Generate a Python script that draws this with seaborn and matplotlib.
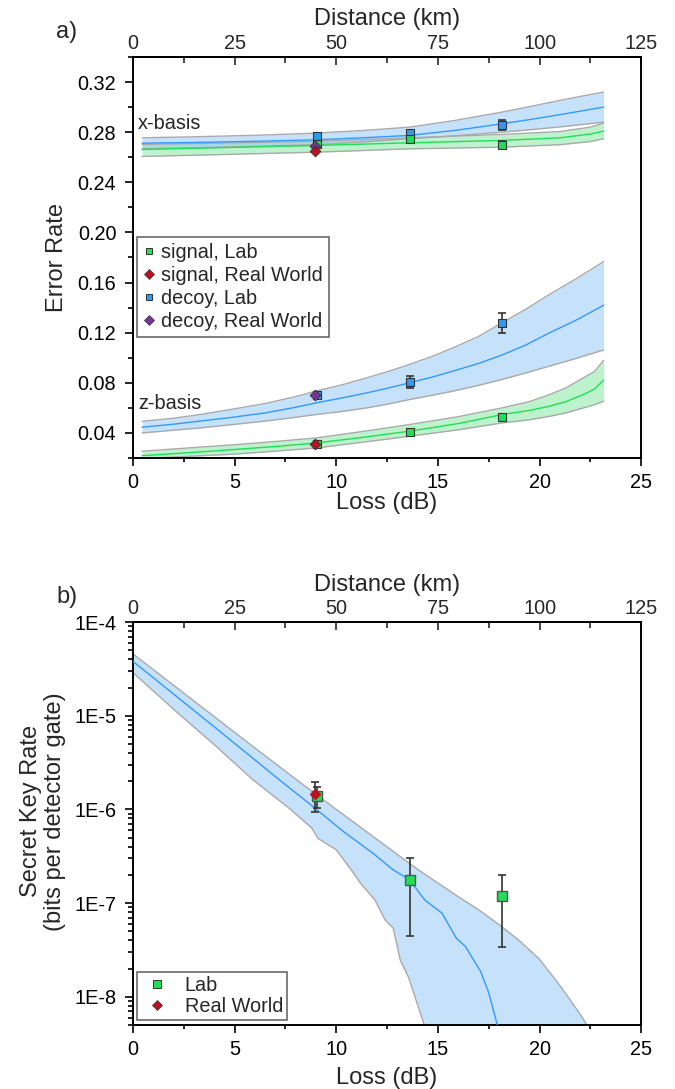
import numpy as np
import matplotlib
matplotlib.use("Agg")
import matplotlib.pyplot as plt
from matplotlib.ticker import MultipleLocator, FixedLocator, LogLocator, FuncFormatter, NullFormatter
from matplotlib.lines import Line2D
import seaborn as sns

# ---------------- Panel a: error rates vs loss ----------------
# x-basis model bands (loss in dB)
xb_decoy_loss = [0.45, 3.0, 6.0, 9.0, 11.3, 13.6, 15.9, 18.15, 19.7, 21.2, 23.15]
xb_decoy_mid = [0.2712, 0.2718, 0.2727, 0.2739, 0.2755, 0.2774, 0.2815, 0.2867, 0.2905, 0.2945, 0.3000]
xb_decoy_hi = [0.2755, 0.2763, 0.2775, 0.2792, 0.2813, 0.2840, 0.2895, 0.2960, 0.3010, 0.3060, 0.3120]
xb_decoy_lo = [0.2667, 0.2675, 0.2687, 0.2700, 0.2722, 0.2747, 0.2772, 0.2800, 0.2822, 0.2845, 0.2880]

xb_signal_loss = [0.45, 4.5, 9.0, 13.6, 18.15, 21.0, 22.5, 23.15]
xb_signal_mid = [0.2662, 0.2677, 0.2694, 0.2715, 0.2734, 0.2755, 0.2785, 0.2808]
xb_signal_hi = [0.2702, 0.2713, 0.2726, 0.2755, 0.2782, 0.2805, 0.2840, 0.2872]
xb_signal_lo = [0.2606, 0.2622, 0.2640, 0.2667, 0.2680, 0.2700, 0.2725, 0.2747]

# z-basis model bands
zb_decoy_loss = [0.45, 2.0, 3.3, 4.9, 6.5, 8.0, 9.0, 10.3, 11.5, 12.6, 13.6, 14.7, 15.75,
                 17.0, 18.15, 19.3, 20.5, 21.8, 23.15]
zb_decoy_mid = [0.0446, 0.0470, 0.0495, 0.0525, 0.0560, 0.0605, 0.0640, 0.0680, 0.0720, 0.0760,
                0.0800, 0.0845, 0.0894, 0.0955, 0.1022, 0.1100, 0.1200, 0.1300, 0.1419]
zb_decoy_hi = [0.0493, 0.0518, 0.0547, 0.0590, 0.0635, 0.0690, 0.0734, 0.0785, 0.0840, 0.0893,
               0.0947, 0.1010, 0.1080, 0.1170, 0.1280, 0.1385, 0.1507, 0.1630, 0.1768]
zb_decoy_lo = [0.0400, 0.0422, 0.0440, 0.0467, 0.0495, 0.0525, 0.0547, 0.0572, 0.0600, 0.0632,
               0.0667, 0.0700, 0.0734, 0.0780, 0.0827, 0.0878, 0.0934, 0.0995, 0.1062]

zb_signal_loss = [0.45, 2.5, 4.9, 7.0, 9.0, 11.3, 13.6, 16.0, 18.15, 19.5, 20.5, 21.3, 22.15, 22.7, 23.15]
zb_signal_mid = [0.0219, 0.0240, 0.0267, 0.0292, 0.0320, 0.0365, 0.0414, 0.0475, 0.0547, 0.0580,
                 0.0614, 0.0650, 0.0707, 0.0750, 0.0822]
zb_signal_hi = [0.0254, 0.0278, 0.0305, 0.0332, 0.0360, 0.0412, 0.0467, 0.0530, 0.0600, 0.0650,
                0.0707, 0.0760, 0.0840, 0.0890, 0.0979]
zb_signal_lo = [0.0195, 0.0212, 0.0230, 0.0255, 0.0280, 0.0326, 0.0374, 0.0425, 0.0480, 0.0505,
                0.0533, 0.0560, 0.0600, 0.0625, 0.0654]

# measured points
lab_loss = [9.05, 13.62, 18.15]
rw_loss = [8.95]
x_signal_lab = [0.2705, 0.2742, 0.2700]
x_signal_lab_err = [0.002, 0.002, 0.003]
x_decoy_lab = [0.2768, 0.2790, 0.2860]
x_decoy_lab_err = [0.002, 0.002, 0.004]
x_signal_rw = [0.2650]
x_decoy_rw = [0.2690]
z_signal_lab = [0.0310, 0.0405, 0.0530]
z_signal_lab_err = [0.001, 0.001, 0.0015]
z_decoy_lab = [0.0700, 0.0808, 0.1280]
z_decoy_lab_err = [0.003, 0.0047, 0.008]
z_signal_rw = [0.0315]
z_decoy_rw = [0.0700]

# ---------------- Panel b: secret key rate ----------------
skr_hi_loss = [0, 2, 4, 6, 8, 10, 12, 14, 16, 17, 18, 19, 20, 21, 22, 22.6]
skr_hi = [4.57e-5, 2.11e-5, 9.77e-6, 4.52e-6, 2.11e-6, 1.0e-6, 4.79e-7, 2.29e-7,
          1.17e-7, 8.5e-8, 5.9e-8, 3.98e-8, 2.51e-8, 1.32e-8, 6.5e-9, 4.0e-9]
skr_lo_loss = [0, 2, 4, 5.9, 7.7, 8.8, 9.1, 10.0, 10.75, 11.2, 11.9, 12.4, 12.8, 13.15, 13.55, 14.3, 14.5]
skr_lo = [2.88e-5, 1.17e-5, 4.9e-6, 2.07e-6, 1.02e-6, 6.3e-7, 4.9e-7, 3.7e-7, 2.24e-7,
          1.62e-7, 1.08e-7, 6.6e-8, 5.4e-8, 2.45e-8, 1.62e-8, 5.2e-9, 3.5e-9]
skr_mid_loss = [0, 2, 4, 7.2, 9.05, 10.35, 11.8, 12.8, 13.6, 14.35, 15.2, 15.9, 16.35, 17.1, 17.5, 17.9, 18.05]
skr_mid = [3.8e-5, 1.7e-5, 7.6e-6, 2.07e-6, 9.9e-7, 5.8e-7, 3.41e-7, 2.26e-7, 1.78e-7,
           1.08e-7, 7.8e-8, 4.23e-8, 3.44e-8, 1.86e-8, 1.10e-8, 5.2e-9, 4.0e-9]

skr_lab = [1.40e-6, 1.76e-7, 1.20e-7]
skr_lab_lo = [1.04e-6, 4.5e-8, 3.4e-8]
skr_lab_hi = [1.75e-6, 3.0e-7, 2.0e-7]
skr_rw = [1.45e-6]
skr_rw_lo = [9.4e-7]
skr_rw_hi = [1.95e-6]

# axis ticks
loss_ticks = [0, 5, 10, 15, 20, 25]
dist_ticks = [0, 25, 50, 75, 100, 125]
err_ticks = [0.04, 0.08, 0.12, 0.16, 0.20, 0.24, 0.28, 0.32]

# ---------------- styling ----------------
sns.set_theme(style="ticks")
plt.rcParams["font.family"] = ["Liberation Sans", "DejaVu Sans"]
plt.rcParams["axes.linewidth"] = 1.4
plt.rcParams["axes.edgecolor"] = "black"

BLUE_FILL = "#8ec5f7"
GREEN_FILL = "#7be89b"
BLUE_LINE = "#3399ff"
GREEN_LINE = "#22dd55"
EDGE = "#aaaaaa"
SQ_GREEN = "#22dd55"
SQ_BLUE = "#3399ee"
RED = "#bb1122"
PURPLE = "#773399"
DARK = "#333333"
TICK_FS = 14.3
LABEL_FS = 17

fig = plt.figure(figsize=(6.75, 10.89), dpi=100)
ax1 = fig.add_axes([0.197, 0.5794, 0.753, 0.3683])
ax2 = fig.add_axes([0.197, 0.0588, 0.753, 0.3700])


def band(ax, x, lo, hi, mid, fill, line):
    ax.fill_between(x, lo, hi, color=fill, alpha=0.5, lw=0, zorder=1)
    ax.plot(x, lo, color=EDGE, lw=1.0, zorder=2)
    ax.plot(x, hi, color=EDGE, lw=1.0, zorder=2)
    sns.lineplot(x=x, y=mid, ax=ax, color=line, lw=1.0, zorder=3,
                 estimator=None, sort=False, legend=False)


band(ax1, xb_signal_loss, xb_signal_lo, xb_signal_hi, xb_signal_mid, GREEN_FILL, GREEN_LINE)
band(ax1, xb_decoy_loss, xb_decoy_lo, xb_decoy_hi, xb_decoy_mid, BLUE_FILL, BLUE_LINE)
band(ax1, zb_signal_loss, zb_signal_lo, zb_signal_hi, zb_signal_mid, GREEN_FILL, GREEN_LINE)
band(ax1, zb_decoy_loss, zb_decoy_lo, zb_decoy_hi, zb_decoy_mid, BLUE_FILL, BLUE_LINE)

eb_kw = dict(fmt="none", ecolor=DARK, elinewidth=1.2, capsize=3, capthick=1.2, zorder=4)
for vals, errs in [(x_decoy_lab, x_decoy_lab_err), (x_signal_lab, x_signal_lab_err),
                   (z_decoy_lab, z_decoy_lab_err), (z_signal_lab, z_signal_lab_err)]:
    ax1.errorbar(lab_loss, vals, yerr=errs, **eb_kw)

sq_a = 34
di_a = 30
sns.scatterplot(x=lab_loss * 2, y=x_decoy_lab + z_decoy_lab, ax=ax1, marker="s", s=sq_a,
                color=SQ_BLUE, edgecolor=DARK, linewidth=0.8, zorder=5, legend=False)
sns.scatterplot(x=lab_loss * 2, y=x_signal_lab + z_signal_lab, ax=ax1, marker="s", s=sq_a,
                color=SQ_GREEN, edgecolor=DARK, linewidth=0.8, zorder=5, legend=False)
sns.scatterplot(x=rw_loss * 2, y=x_decoy_rw + z_decoy_rw, ax=ax1, marker="D", s=di_a,
                color=PURPLE, edgecolor=DARK, linewidth=0.6, zorder=6, legend=False)
sns.scatterplot(x=rw_loss * 2, y=x_signal_rw + z_signal_rw, ax=ax1, marker="D", s=di_a,
                color=RED, edgecolor=DARK, linewidth=0.6, zorder=7, legend=False)

ax1.set_xlim(0, 25)
ax1.set_ylim(0.02, 0.34)
ax1.xaxis.set_major_locator(FixedLocator(loss_ticks))
ax1.xaxis.set_minor_locator(MultipleLocator(2.5))
ax1.yaxis.set_major_locator(FixedLocator(err_ticks))
ax1.yaxis.set_minor_locator(MultipleLocator(0.02))
ax1.yaxis.set_major_formatter(FuncFormatter(lambda v, p: f"{v:.2f}"))
ax1.set_ylabel("Error Rate", fontsize=LABEL_FS)
ax1.set_xlabel("Loss (dB)", fontsize=LABEL_FS)
ax1.text(0.01, 0.835, "x-basis", transform=ax1.transAxes, fontsize=TICK_FS, va="center", ha="left")
ax1.text(0.01, 0.135, "z-basis", transform=ax1.transAxes, fontsize=TICK_FS, va="center", ha="left")

leg_a = [
    Line2D([], [], ls="none", marker="s", ms=5, mfc=SQ_GREEN, mec=DARK, mew=0.7, label="signal, Lab"),
    Line2D([], [], ls="none", marker="D", ms=5, mfc=RED, mec=DARK, mew=0.5, label="signal, Real World"),
    Line2D([], [], ls="none", marker="s", ms=5, mfc=SQ_BLUE, mec=DARK, mew=0.7, label="decoy, Lab"),
    Line2D([], [], ls="none", marker="D", ms=5, mfc=PURPLE, mec=DARK, mew=0.5, label="decoy, Real World"),
]
lg = ax1.legend(handles=leg_a, loc="upper left", bbox_to_anchor=(0.008, 0.551), borderaxespad=0,
                fontsize=TICK_FS, frameon=True, fancybox=False, handlelength=0.6, handletextpad=0.3,
                borderpad=0.3, labelspacing=0.2)
lg.get_frame().set_edgecolor("#444444")
lg.get_frame().set_linewidth(1.2)

# ---- panel b ----
poly_x = skr_hi_loss + skr_lo_loss[::-1]
poly_y = skr_hi + skr_lo[::-1]
ax2.fill(poly_x, poly_y, color=BLUE_FILL, alpha=0.5, lw=0, zorder=1)
ax2.plot(skr_hi_loss, skr_hi, color=EDGE, lw=1.0, zorder=2)
ax2.plot(skr_lo_loss, skr_lo, color=EDGE, lw=1.0, zorder=2)
sns.lineplot(x=skr_mid_loss, y=skr_mid, ax=ax2, color=BLUE_LINE, lw=1.0, zorder=3,
             estimator=None, sort=False, legend=False)

lab_arr = np.array(skr_lab)
rw_arr = np.array(skr_rw)
ax2.errorbar(rw_loss, skr_rw, yerr=[rw_arr - np.array(skr_rw_lo), np.array(skr_rw_hi) - rw_arr], **eb_kw)
ax2.errorbar(lab_loss, skr_lab, yerr=[lab_arr - np.array(skr_lab_lo), np.array(skr_lab_hi) - lab_arr], **eb_kw)
sns.scatterplot(x=lab_loss, y=skr_lab, ax=ax2, marker="s", s=48, color=SQ_GREEN,
                edgecolor="#555555", linewidth=1.0, zorder=5, legend=False)
sns.scatterplot(x=rw_loss, y=skr_rw, ax=ax2, marker="D", s=30, color=RED,
                edgecolor=RED, linewidth=0.5, zorder=6, legend=False)

ax2.set_yscale("log")
ax2.set_xlim(0, 25)
ax2.set_ylim(5e-9, 1e-4)
ax2.xaxis.set_major_locator(FixedLocator(loss_ticks))
ax2.xaxis.set_minor_locator(MultipleLocator(2.5))
ax2.yaxis.set_major_locator(FixedLocator([1e-8, 1e-7, 1e-6, 1e-5, 1e-4]))
ax2.yaxis.set_minor_locator(LogLocator(base=10, subs=np.arange(2, 10), numticks=100))
ax2.yaxis.set_major_formatter(FuncFormatter(lambda v, p: f"1E{int(round(np.log10(v)))}"))
ax2.yaxis.set_minor_formatter(NullFormatter())
ax2.set_ylabel("Secret Key Rate\n(bits per detector gate)", fontsize=LABEL_FS, linespacing=1.1)
ax2.set_xlabel("Loss (dB)", fontsize=LABEL_FS)

leg_b = [
    Line2D([], [], ls="none", marker="s", ms=5.5, mfc=SQ_GREEN, mec=DARK, mew=0.7, label="Lab"),
    Line2D([], [], ls="none", marker="D", ms=5, mfc=RED, mec=DARK, mew=0.5, label="Real World"),
]
lg2 = ax2.legend(handles=leg_b, loc="lower left", bbox_to_anchor=(0.008, 0.012), borderaxespad=0,
                 fontsize=TICK_FS, frameon=True, fancybox=False, handlelength=1.6, handletextpad=0.6,
                 borderpad=0.2, labelspacing=0.1)
lg2.get_frame().set_edgecolor("#444444")
lg2.get_frame().set_linewidth(1.2)

for ax in (ax1, ax2):
    ax.tick_params(axis="both", which="both", labelsize=TICK_FS, colors="black", width=1.2,
                   top=False, right=False)
    ax.tick_params(axis="x", which="major", direction="out", length=5.5, pad=5)
    ax.tick_params(axis="x", which="minor", direction="out", length=3)
    ax.tick_params(axis="y", which="major", direction="out", length=6, pad=6)
    ax.tick_params(axis="y", which="minor", direction="out", length=3.5)
    for sp in ax.spines.values():
        sp.set_visible(True)
        sp.set_linewidth(1.4)
        sp.set_color("black")
    ax.xaxis.set_label_coords(0.5, -0.085)
    sec = ax.secondary_xaxis("top", functions=(lambda v: v * 5, lambda d: d / 5))
    sec.xaxis.set_major_locator(FixedLocator(dist_ticks))
    sec.xaxis.set_minor_locator(MultipleLocator(12.5))
    sec.tick_params(axis="x", which="major", direction="in", length=6, width=1.2, labelsize=TICK_FS, pad=3)
    sec.tick_params(axis="x", which="minor", direction="in", length=4, width=1.2)
    sec.set_xlabel("Distance (km)", fontsize=LABEL_FS, labelpad=6)

ax1.yaxis.set_label_coords(-0.128, 0.5)
ax2.yaxis.set_label_coords(-0.132, 0.53)
ax2.xaxis.set_label_coords(0.5, -0.105)

fig.text(67 / 675, 1 - 32 / 1089, "a)", fontsize=LABEL_FS, ha="center", va="center")
fig.text(67 / 675, 1 - 597 / 1089, "b)", fontsize=LABEL_FS, ha="center", va="center")

fig.savefig("out.png", dpi=100)
